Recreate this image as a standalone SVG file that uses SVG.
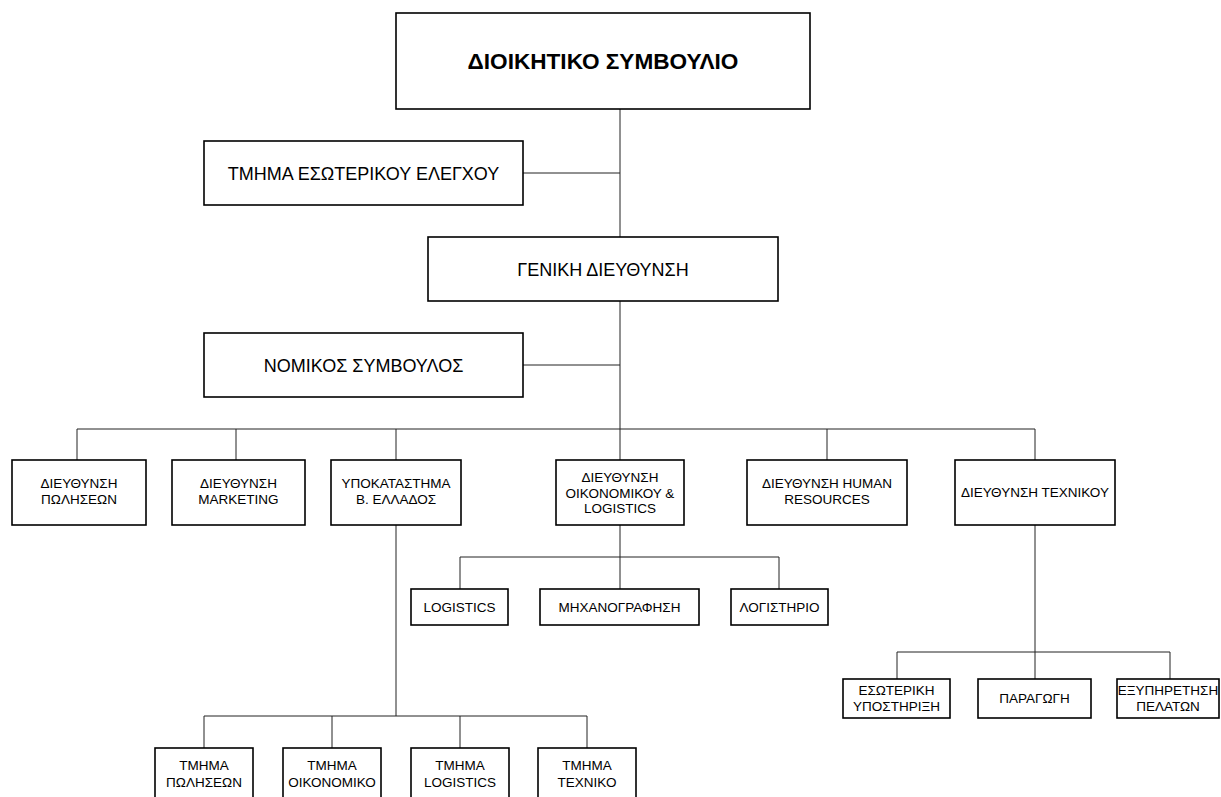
<svg xmlns="http://www.w3.org/2000/svg" width="1221" height="797" viewBox="0 0 1221 797">
<style>
.bg{fill:#fff}
.box{fill:#fff;stroke:#000;stroke-width:1.6}
.c{fill:none;stroke:#222;stroke-width:1}
text{font-family:"Liberation Sans",Arial,sans-serif;fill:#000;text-anchor:middle}
.t1{font-size:22.6px;font-weight:bold}
.t2{font-size:18px}
.t3{font-size:13.5px}
</style>
<rect class="bg" x="0" y="0" width="1221" height="797"/>
<g id="connectors">
<path class="c" d="M620 109V429"/>
<path class="c" d="M523 173H620"/>
<path class="c" d="M523 365H620"/>
<path class="c" d="M77 460V429H1035V460M236 429V460M396 429V460M620 429V460M827 429V460"/>
<path class="c" d="M620 525V557M460 589V557H779V589M620 557V589"/>
<path class="c" d="M1035 525V652M897 680V652H1170V680M1035 652V680"/>
<path class="c" d="M396 525V716M204 748V716H587V748M332 716V748M460 716V748"/>
</g>
<g id="n-board"><rect class="box" x="396" y="13" width="414" height="96"/><text class="t1" x="603" y="69">ΔΙΟΙΚΗΤΙΚΟ ΣΥΜΒΟΥΛΙΟ</text></g>
<g id="n-audit"><rect class="box" x="204" y="141" width="319" height="64"/><text class="t2" x="363.5" y="179.5">ΤΜΗΜΑ ΕΣΩΤΕΡΙΚΟΥ ΕΛΕΓΧΟΥ</text></g>
<g id="n-gm"><rect class="box" x="428" y="237" width="350" height="64"/><text class="t2" x="603" y="275.5">ΓΕΝΙΚΗ ΔΙΕΥΘΥΝΣΗ</text></g>
<g id="n-legal"><rect class="box" x="204" y="333" width="319" height="64"/><text class="t2" x="363.5" y="371.5">ΝΟΜΙΚΟΣ ΣΥΜΒΟΥΛΟΣ</text></g>
<g id="n-sales"><rect class="box" x="12" y="460" width="134" height="65"/><text class="t3" x="79" y="488">ΔΙΕΥΘΥΝΣΗ</text><text class="t3" x="79" y="504">ΠΩΛΗΣΕΩΝ</text></g>
<g id="n-mkt"><rect class="box" x="172" y="460" width="133" height="65"/><text class="t3" x="238.5" y="488">ΔΙΕΥΘΥΝΣΗ</text><text class="t3" x="238.5" y="504">MARKETING</text></g>
<g id="n-branch"><rect class="box" x="331" y="460" width="130" height="65"/><text class="t3" x="396" y="488">ΥΠΟΚΑΤΑΣΤΗΜΑ</text><text class="t3" x="396" y="504">Β. ΕΛΛΑΔΟΣ</text></g>
<g id="n-fin"><rect class="box" x="556" y="460" width="128" height="65"/><text class="t3" x="620" y="481.5">ΔΙΕΥΘΥΝΣΗ</text><text class="t3" x="620" y="497.5">ΟΙΚΟΝΟΜΙΚΟΥ &amp;</text><text class="t3" x="620" y="513">LOGISTICS</text></g>
<g id="n-hr"><rect class="box" x="747" y="460" width="160" height="65"/><text class="t3" x="827" y="488">ΔΙΕΥΘΥΝΣΗ HUMAN</text><text class="t3" x="827" y="504">RESOURCES</text></g>
<g id="n-tech"><rect class="box" x="955" y="460" width="160" height="65"/><text class="t3" x="1035" y="497">ΔΙΕΥΘΥΝΣΗ ΤΕΧΝΙΚΟΥ</text></g>
<g id="n-logistics"><rect class="box" x="411" y="589" width="97" height="36"/><text class="t3" x="459.5" y="612">LOGISTICS</text></g>
<g id="n-mech"><rect class="box" x="540" y="589" width="159" height="36"/><text class="t3" x="619.5" y="612">ΜΗΧΑΝΟΓΡΑΦΗΣΗ</text></g>
<g id="n-acc"><rect class="box" x="731" y="589" width="97" height="36"/><text class="t3" x="779.5" y="612">ΛΟΓΙΣΤΗΡΙΟ</text></g>
<g id="n-support"><rect class="box" x="843" y="679" width="107" height="39"/><text class="t3" x="896.5" y="695">ΕΣΩΤΕΡΙΚΗ</text><text class="t3" x="896.5" y="711">ΥΠΟΣΤΗΡΙΞΗ</text></g>
<g id="n-prod"><rect class="box" x="978" y="679" width="113" height="39"/><text class="t3" x="1034.5" y="703">ΠΑΡΑΓΩΓΗ</text></g>
<g id="n-service"><rect class="box" x="1117" y="679" width="102" height="39"/><text class="t3" x="1168" y="695">ΕΞΥΠΗΡΕΤΗΣΗ</text><text class="t3" x="1168" y="711">ΠΕΛΑΤΩΝ</text></g>
<g id="n-b-sales"><rect class="box" x="155" y="748" width="98" height="60"/><text class="t3" x="204" y="770">ΤΜΗΜΑ</text><text class="t3" x="204" y="787">ΠΩΛΗΣΕΩΝ</text></g>
<g id="n-b-fin"><rect class="box" x="283" y="748" width="98" height="60"/><text class="t3" x="332" y="770">ΤΜΗΜΑ</text><text class="t3" x="332" y="787">ΟΙΚΟΝΟΜΙΚΟ</text></g>
<g id="n-b-log"><rect class="box" x="411" y="748" width="98" height="60"/><text class="t3" x="460" y="770">ΤΜΗΜΑ</text><text class="t3" x="460" y="787">LOGISTICS</text></g>
<g id="n-b-tech"><rect class="box" x="538" y="748" width="98" height="60"/><text class="t3" x="587" y="770">ΤΜΗΜΑ</text><text class="t3" x="587" y="787">ΤΕΧΝΙΚΟ</text></g>
</svg>
